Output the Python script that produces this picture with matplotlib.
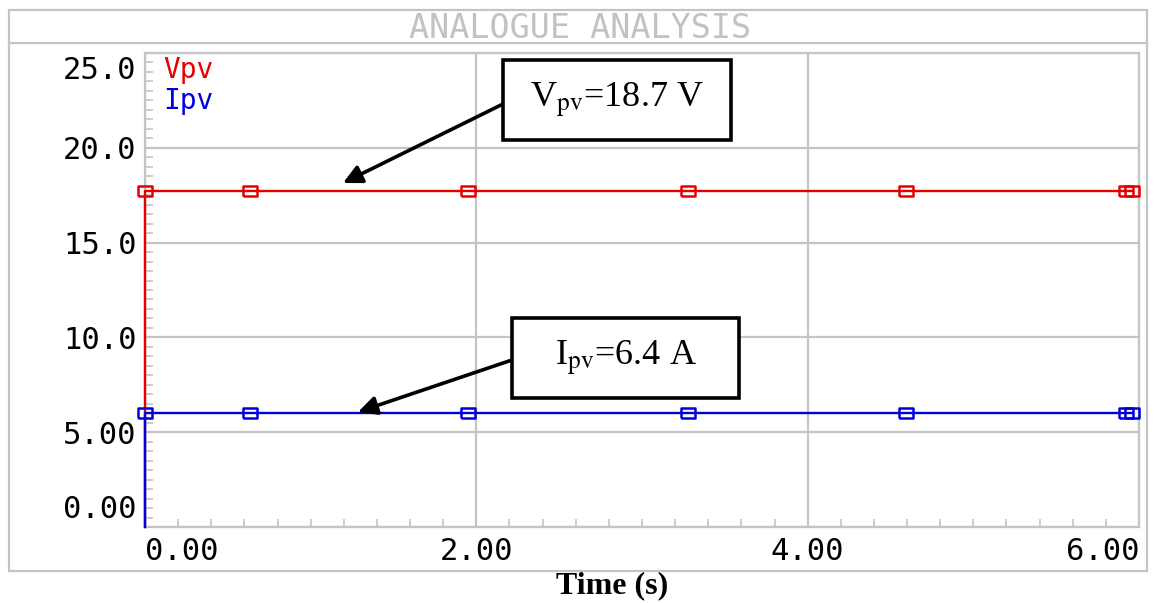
import matplotlib
matplotlib.use("Agg")
import matplotlib.pyplot as plt
from matplotlib.patches import Rectangle
from matplotlib.lines import Line2D
from matplotlib.ticker import MultipleLocator
from matplotlib.transforms import ScaledTranslation

plt.rcParams['mathtext.fontset'] = 'stix'

# data
series_names = ["Vpv", "Ipv"]
series_colors = ["#e60000", "#0000dd"]
t_line = [0.0, 0.0, 5.96]
vpv_line = [0.0, 17.7, 17.7]
ipv_line = [0.0, 6.0, 6.0]
t_marks = [0.0, 0.633, 1.948, 3.275, 4.596, 5.923, 5.96]
vpv_marks = [17.7] * len(t_marks)
ipv_marks = [6.0] * len(t_marks)

x_ticks = [0, 2, 4, 6]
x_labels = ["0.00", "2.00", "4.00", "6.00"]
y_ticks = [0, 5, 10, 15, 20, 25]
y_labels = ["0.00", "5.00", "10.0", "15.0", "20.0", "25.0"]

W, H = 1155, 603
GRID = "#c4c4c4"
MONO = "DejaVu Sans Mono"

fig = plt.figure(figsize=(W / 100, H / 100), dpi=100)
fig.patch.set_facecolor("white")

# outer frame and title band
fig.add_artist(Rectangle((9 / W, 1 - 571 / H), (1147 - 9) / W, (571 - 10) / H,
                         transform=fig.transFigure, fill=False, ec=GRID, lw=1.6))
fig.add_artist(Line2D([9 / W, 1147 / W], [1 - 43 / H, 1 - 43 / H],
                      transform=fig.transFigure, color=GRID, lw=1.6))
fig.text(580 / W, 1 - 28 / H, "ANALOGUE ANALYSIS", ha="center", va="center",
         family=MONO, fontsize=24, color="#c2c2c2")

ax = fig.add_axes([145 / W, 1 - 527 / H, (1139 - 145) / W, (527 - 53) / H])
ax.set_xlim(0, 6.0)
ax.set_ylim(0, 25)
for sp in ax.spines.values():
    sp.set_color(GRID)
    sp.set_linewidth(1.6)

ax.grid(which="major", color=GRID, lw=1.6, zorder=0)
ax.set_xticks(x_ticks)
ax.set_xticklabels(x_labels, family=MONO, fontsize=22)
ax.set_yticks(y_ticks)
ax.set_yticklabels(y_labels, family=MONO, fontsize=22)
ax.xaxis.set_minor_locator(MultipleLocator(0.2))
ax.yaxis.set_minor_locator(MultipleLocator(0.5))
ax.tick_params(which="major", length=0, pad=6)
ax.tick_params(axis="x", which="major", pad=7)
ax.tick_params(which="minor", direction="in", length=6, width=1.2, color=GRID)

xl = ax.get_xticklabels()
xl[0].set_ha("left")
xl[-1].set_ha("right")
yl = ax.get_yticklabels()
yl[0].set_va("bottom")
yl[0].set_transform(yl[0].get_transform() + ScaledTranslation(0, 3 / 100, fig.dpi_scale_trans))
yl[-1].set_va("top")
yl[-1].set_transform(yl[-1].get_transform() + ScaledTranslation(0, -3 / 100, fig.dpi_scale_trans))

rect_marker = [(-1, -0.65), (1, -0.65), (1, 0.65), (-1, 0.65), (-1, -0.65)]
for vals, marks, c in [(vpv_line, vpv_marks, series_colors[0]),
                       (ipv_line, ipv_marks, series_colors[1])]:
    ax.plot(t_line, vals, color=c, lw=1.7, zorder=3, clip_on=False)
    ax.plot(t_marks, marks, ls="none", marker=rect_marker, ms=10, mfc="none",
            mec=c, mew=1.8, zorder=4, clip_on=False)

# series names, top-left
ax.text(0.018, 0.965, series_names[0], transform=ax.transAxes, color=series_colors[0],
        family=MONO, fontsize=20, va="center", ha="left")
ax.text(0.018, 0.898, series_names[1], transform=ax.transAxes, color=series_colors[1],
        family=MONO, fontsize=20, va="center", ha="left")

# annotation boxes with arrows (figure pixel positions)
boxes = [((503, 60, 731, 140), r"V$_{\mathrm{pv}}$=18.7 V", (503, 104), (343, 183)),
         ((512, 318, 739, 398), r"I$_{\mathrm{pv}}$=6.4 A", (512, 360), (358, 412))]
for (x0, y0, x1, y1), txt, start, tip in boxes:
    fig.add_artist(Rectangle((x0 / W, 1 - y1 / H), (x1 - x0) / W, (y1 - y0) / H,
                             transform=fig.transFigure, fill=True, fc="white",
                             ec="black", lw=2.6, zorder=5))
    fig.text((x0 + x1) / 2 / W, 1 - (y0 + y1) / 2 / H, txt, ha="center", va="center",
             family="Liberation Serif", fontsize=26, zorder=6)
    ax.annotate("", xy=(tip[0], H - tip[1]), xycoords="figure pixels",
                xytext=(start[0], H - start[1]), textcoords="figure pixels",
                arrowprops=dict(arrowstyle="-|>", color="black", lw=2.6,
                                mutation_scale=28, shrinkA=0, shrinkB=0),
                zorder=6)

fig.text(612 / W, 1 - 586 / H, "Time (s)", ha="center", va="center",
         family="Liberation Serif", fontweight="bold", fontsize=23)

fig.savefig("out.png", dpi=100)
